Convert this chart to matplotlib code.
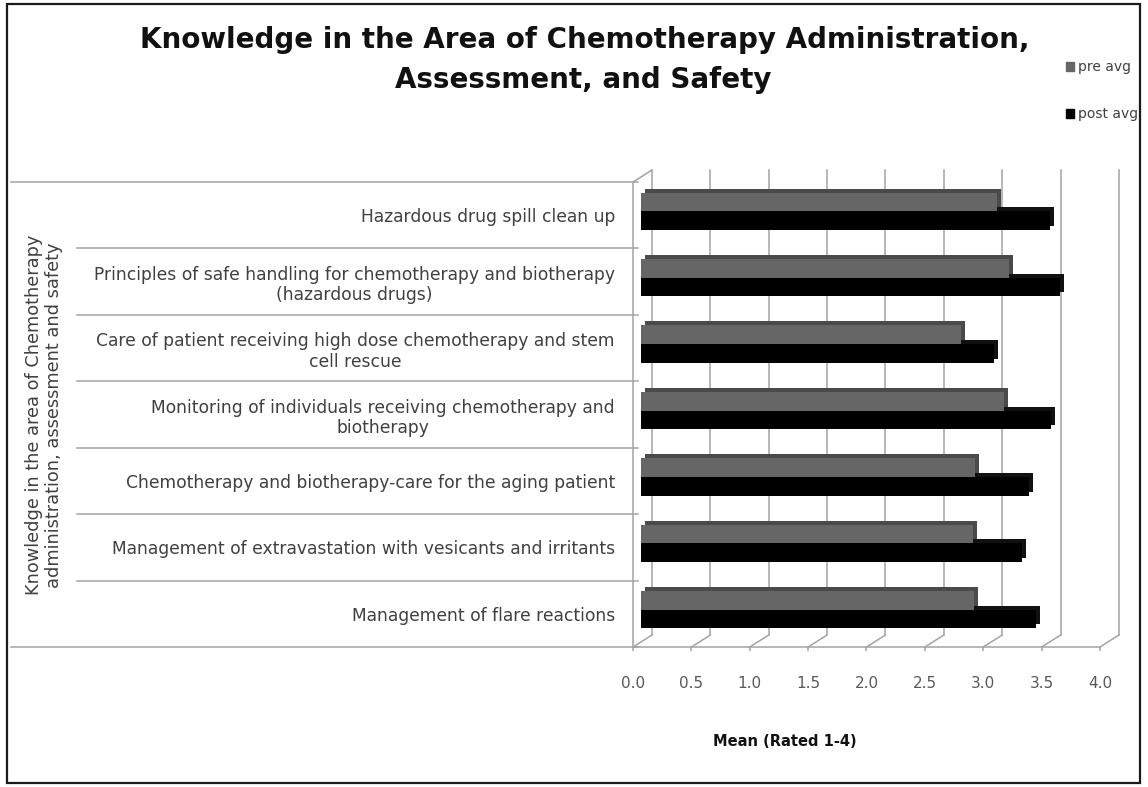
import numpy as np
import matplotlib as mpl
import matplotlib.pyplot as plt
import matplotlib.patches as mpatches
import matplotlib.transforms as mtransforms
from matplotlib.patches import ConnectionPatch


CATEGORIES = [
    'Hazardous drug spill clean up',
    'Principles of safe handling for chemotherapy and biotherapy\n(hazardous drugs)',
    'Care of patient receiving high dose chemotherapy and stem\ncell rescue',
    'Monitoring of individuals receiving chemotherapy and\nbiotherapy',
    'Chemotherapy and biotherapy-care for the aging patient',
    'Management of extravastation with vesicants and irritants',
    'Management of flare reactions',
]
PRE_AVG  = [3.05, 3.15, 2.74, 3.11, 2.86, 2.84, 2.85]
POST_AVG = [3.50, 3.59, 3.02, 3.51, 3.32, 3.26, 3.38]
X_TICKS  = [0.0, 0.5, 1.0, 1.5, 2.0, 2.5, 3.0, 3.5, 4.0]

TITLE_1 = 'Knowledge in the Area of Chemotherapy Administration,'
TITLE_2 = 'Assessment, and Safety'
Y_TITLE = 'Knowledge in the area of Chemotherapy\nadministration, assessment and safety'
X_TITLE = 'Mean (Rated 1-4)'
SERIES  = ['pre avg', 'post avg']

W, H = 1148, 787
C_PRE, C_PRE_DK = '#666666', '#4a4a4a'
C_POST, C_POST_DK = '#000000', '#111111'
C_GRID = '#a3a3a3'
C_TEXT = '#404040'

mpl.rcParams.update({
    'font.family': 'DejaVu Sans',
    'figure.facecolor': 'white',
    'axes.facecolor': 'none',
})


def px(x, y):
    # pixel position (from top-left) -> figure fraction
    return x / W, 1 - y / H


def main():
    fig = plt.figure(figsize=(W / 100, H / 100), dpi=100)

    # outer frame
    fig.add_artist(mpatches.Rectangle(
        px(7, 783), 1133 / W, 779 / H, transform=fig.transFigure,
        facecolor='none', edgecolor='#1a1a1a', linewidth=1.6))

    # front plane of the 3-D box: x 633..1100 px, y 182..647 px
    x0, y0 = px(633, 647)
    ax = fig.add_axes([x0, y0, 467 / W, 465 / H])
    n = len(CATEGORIES)
    ypos = np.arange(n)

    back_tr = mtransforms.offset_copy(ax.transData, fig=fig, x=19, y=12, units='dots')
    bar_tr = mtransforms.offset_copy(ax.transData, fig=fig, x=8, y=4, units='dots')
    bar_back = mtransforms.offset_copy(ax.transData, fig=fig, x=12, y=8, units='dots')

    # back wall gridlines + floor diagonals
    for v in X_TICKS:
        ax.plot([v, v], [-0.5, n - 0.5], color=C_GRID, lw=1.1,
                transform=back_tr, clip_on=False, zorder=1)
        cp = ConnectionPatch(xyA=(v, n - 0.5), coordsA=ax.transData,
                             xyB=(v, n - 0.5), coordsB=back_tr,
                             arrowstyle='-', color=C_GRID, lw=1.1, zorder=1)
        ax.add_artist(cp)
    # left wall top diagonal
    ax.add_artist(ConnectionPatch(xyA=(0, -0.5), coordsA=ax.transData,
                                  xyB=(0, -0.5), coordsB=back_tr,
                                  arrowstyle='-', color=C_GRID, lw=1.1, zorder=1))

    # bars, extruded: darker back face then front face
    bh = 0.28
    ax.barh(ypos + bh / 2, POST_AVG, height=bh, color=C_POST_DK,
            transform=bar_back, zorder=3)
    ax.barh(ypos + bh / 2, POST_AVG, height=bh, color=C_POST,
            transform=bar_tr, zorder=4)
    ax.barh(ypos - bh / 2, PRE_AVG, height=bh, color=C_PRE_DK,
            transform=bar_back, zorder=5)
    ax.barh(ypos - bh / 2, PRE_AVG, height=bh, color=C_PRE,
            transform=bar_tr, zorder=6)

    # row separators of the category table
    sep_tr = mtransforms.blended_transform_factory(fig.transFigure, ax.transData)
    for k in range(n + 1):
        y = k - 0.5
        xs = 11 / W if k in (0, n) else 77 / W
        ax.plot([xs, 638 / W], [y, y], color=C_GRID, lw=1.1,
                transform=sep_tr, clip_on=False, zorder=2)

    ax.set_xlim(0, 4)
    ax.set_ylim(n - 0.5, -0.5)

    for side in ('top', 'right'):
        ax.spines[side].set_visible(False)
    for side in ('left', 'bottom'):
        ax.spines[side].set_color(C_GRID)
        ax.spines[side].set_linewidth(1.1)

    ax.set_xticks(X_TICKS)
    ax.set_xticklabels([f'{v:.1f}' for v in X_TICKS])
    ax.tick_params(axis='x', length=3, width=1.1, color=C_GRID,
                   labelcolor='#595959', labelsize=11, pad=18)
    ax.set_yticks(ypos)
    ax.set_yticklabels(CATEGORIES, multialignment='center')
    ax.tick_params(axis='y', length=0, labelcolor=C_TEXT, labelsize=12.3, pad=13)

    # titles
    fig.text(*px(585, 40), TITLE_1, ha='center', va='center',
             fontsize=20, fontweight='bold', color='#111111')
    fig.text(*px(583, 80), TITLE_2, ha='center', va='center',
             fontsize=20, fontweight='bold', color='#111111')
    fig.text(*px(44, 415), Y_TITLE, rotation=90, ha='center', va='center',
             multialignment='center', fontsize=12.8, color=C_TEXT)
    fig.text(*px(785, 741), X_TITLE, ha='center', va='center',
             fontsize=10.5, fontweight='bold', color='#111111')

    handles = [mpatches.Patch(color=C_PRE, label=SERIES[0]),
               mpatches.Patch(color=C_POST, label=SERIES[1])]
    fig.legend(handles=handles, loc='upper left',
               bbox_to_anchor=px(1066, 60), frameon=False,
               handlelength=0.6, handleheight=0.6, handletextpad=0.3,
               labelspacing=2.4, fontsize=10, labelcolor=C_TEXT,
               borderpad=0, borderaxespad=0)

    fig.savefig('out.png', dpi=100)


if __name__ == '__main__':
    main()
